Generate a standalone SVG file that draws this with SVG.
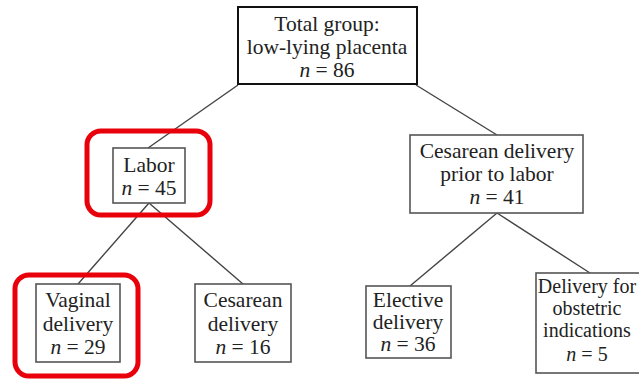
<svg xmlns="http://www.w3.org/2000/svg" width="639" height="379" viewBox="0 0 639 379">
<style>
.box{fill:#fff;stroke:#555;stroke-width:1.6}
.top{fill:#fff;stroke:#111;stroke-width:2}
.hl{fill:none;stroke:#e8000b;stroke-width:5}
.ln{stroke:#444;stroke-width:1.4;fill:none}
text{font-family:"Liberation Serif","Times New Roman",serif;font-size:21.5px;fill:#222;text-anchor:middle}
.i{font-style:italic}
.sm{font-size:20px}
</style>
<rect width="639" height="379" fill="#fff"/>
<g id="connectors">
<line class="ln" x1="238" y1="85" x2="148" y2="148"/>
<line class="ln" x1="416" y1="85" x2="497" y2="135"/>
<line class="ln" x1="149" y1="203" x2="78" y2="284"/>
<line class="ln" x1="149" y1="203" x2="243" y2="284"/>
<line class="ln" x1="497" y1="213" x2="410" y2="286"/>
<line class="ln" x1="497" y1="213" x2="590" y2="273"/>
</g>
<g id="total">
<rect class="top" x="238" y="7" width="179" height="77"/>
<text x="327" y="31">Total group:</text>
<text x="327" y="54">low-lying placenta</text>
<text x="327" y="77"><tspan class="i">n</tspan> = 86</text>
</g>
<g id="labor">
<rect class="hl" x="87" y="131" width="123" height="84" rx="14"/>
<rect class="box" x="113" y="148" width="72" height="55"/>
<text x="149" y="172">Labor</text>
<text x="149" y="195"><tspan class="i">n</tspan> = 45</text>
</g>
<g id="cesarean-prior">
<rect class="box" x="410" y="135" width="173" height="78"/>
<text x="497" y="158">Cesarean delivery</text>
<text x="497" y="181">prior to labor</text>
<text x="497" y="204"><tspan class="i">n</tspan> = 41</text>
</g>
<g id="vaginal">
<rect class="hl" x="15" y="275" width="123" height="101" rx="14"/>
<rect class="box" x="36" y="284" width="84" height="78"/>
<text x="78" y="307">Vaginal</text>
<text x="78" y="331">delivery</text>
<text x="78" y="354"><tspan class="i">n</tspan> = 29</text>
</g>
<g id="cesarean">
<rect class="box" x="195" y="284" width="96" height="78"/>
<text x="243" y="307">Cesarean</text>
<text x="243" y="331">delivery</text>
<text x="243" y="354"><tspan class="i">n</tspan> = 16</text>
</g>
<g id="elective">
<rect class="box" x="366" y="286" width="85" height="72"/>
<text x="408" y="307">Elective</text>
<text x="408" y="329">delivery</text>
<text x="408" y="351"><tspan class="i">n</tspan> = 36</text>
</g>
<g id="obstetric">
<rect class="box" x="536" y="273" width="110" height="100"/>
<text class="sm" x="587" y="293">Delivery for</text>
<text class="sm" x="587" y="315">obstetric</text>
<text class="sm" x="587" y="337">indications</text>
<text class="sm" x="587" y="361"><tspan class="i">n</tspan> = 5</text>
</g>
</svg>
